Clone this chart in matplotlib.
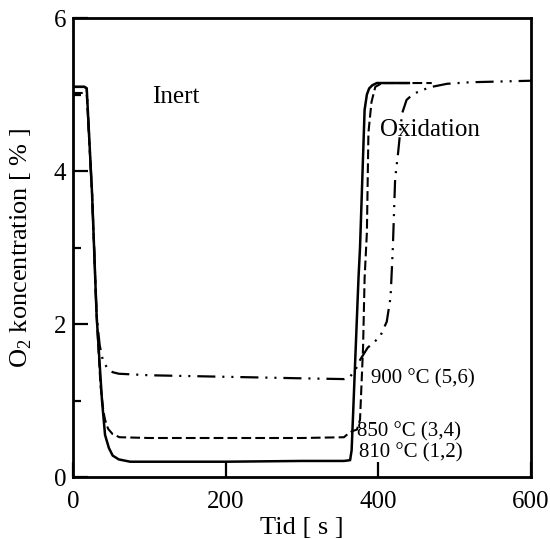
import matplotlib
matplotlib.use("Agg")
import matplotlib.pyplot as plt
from matplotlib.ticker import MultipleLocator

plt.rcParams['font.family'] = ['Liberation Serif', 'DejaVu Serif']
plt.rcParams['mathtext.fontset'] = 'custom'
plt.rcParams['mathtext.rm'] = 'Liberation Serif'
plt.rcParams['lines.scale_dashes'] = False

# 810 °C (1,2) - solid
t_810 = [0, 15, 18, 25, 31, 38, 42, 47, 52, 60, 75, 100, 200, 300, 355, 363, 365, 367, 370, 374, 376, 379, 382, 385, 388, 392, 398, 410, 425, 440]
y_810 = [5.1, 5.1, 5.08, 3.7, 2.1, 1.0, 0.55, 0.38, 0.28, 0.23, 0.2, 0.2, 0.2, 0.21, 0.21, 0.22, 0.35, 0.84, 1.6, 2.6, 3.0, 3.9, 4.8, 5.0, 5.08, 5.12, 5.15, 5.15, 5.15, 5.15]

# 850 °C (3,4) - dashed
t_850 = [0, 15, 18, 25, 31, 36, 40, 42, 46, 52, 61, 100, 200, 300, 355, 362, 366, 372, 376, 380, 382, 385, 387, 391, 396, 405, 430, 470]
y_850 = [5.02, 5.02, 5.0, 3.7, 2.1, 1.2, 0.85, 0.75, 0.63, 0.56, 0.52, 0.51, 0.51, 0.51, 0.52, 0.58, 0.6, 0.62, 0.75, 1.7, 2.6, 3.2, 4.5, 4.9, 5.1, 5.15, 5.15, 5.15]

# 900 °C (5,6) - dash-dot-dot
t_900 = [0, 15, 18, 25, 31, 35, 39, 45, 52, 60, 100, 200, 300, 355, 362, 370, 376, 386, 395, 402, 411, 416, 419, 422, 426, 431, 437, 445, 455, 470, 490, 520, 560, 600]
y_900 = [5.1, 5.1, 5.08, 3.7, 2.1, 1.72, 1.53, 1.42, 1.37, 1.35, 1.33, 1.31, 1.29, 1.28, 1.3, 1.4, 1.53, 1.69, 1.77, 1.83, 2.03, 2.35, 3.0, 3.9, 4.25, 4.75, 4.93, 5.0, 5.05, 5.1, 5.14, 5.16, 5.17, 5.18]

x_ticks = [0, 200, 400, 600]
y_ticks = [0, 2, 4, 6]

fig = plt.figure(figsize=(5.5, 5.39), dpi=100)
ax = fig.add_axes([0.1327, 0.115, 0.9655 - 0.1327, 0.9666 - 0.115])

lw = 1.8
ax.plot(t_810, y_810, color='black', lw=lw, linestyle='-')
ax.plot(t_850, y_850, color='black', lw=1.5, linestyle=(0, (7, 3)))
ax.plot(t_900, y_900, color='black', lw=1.6, linestyle=(0, (13, 5, 1.5, 5, 1.5, 5)))

ax.set_xlim(0, 600)
ax.set_ylim(0, 6)
ax.set_xticks(x_ticks)
ax.set_yticks(y_ticks)
ax.yaxis.set_minor_locator(MultipleLocator(1))

for s in ['left', 'bottom', 'right', 'top']:
    ax.spines[s].set_linewidth(2.0)

ax.tick_params(axis='both', which='major', direction='in', length=11, width=1.6,
               labelsize=18, top=False, right=False)
ax.tick_params(axis='x', which='major', pad=10)
ax.tick_params(axis='y', which='minor', direction='in', length=5.5, width=1.6)
ax.tick_params(axis='y', which='major', pad=5)

ax.set_xlabel('Tid [ s ]', fontsize=19, labelpad=3)
ax.set_ylabel(r'O$_\mathregular{2}$ koncentration [ % ]', fontsize=19, labelpad=14)

ax.text(103, 4.97, 'Inert', fontsize=18, va='center', ha='left')
ax.text(402, 4.54, 'Oxidation', fontsize=18, va='center', ha='left')
ax.text(390, 1.29, '900 °C (5,6)', fontsize=15, va='center', ha='left')
ax.text(372, 0.59, '850 °C (3,4)', fontsize=15, va='center', ha='left')
ax.text(375, 0.32, '810 °C (1,2)', fontsize=15, va='center', ha='left')

fig.savefig('out.png', dpi=100)
